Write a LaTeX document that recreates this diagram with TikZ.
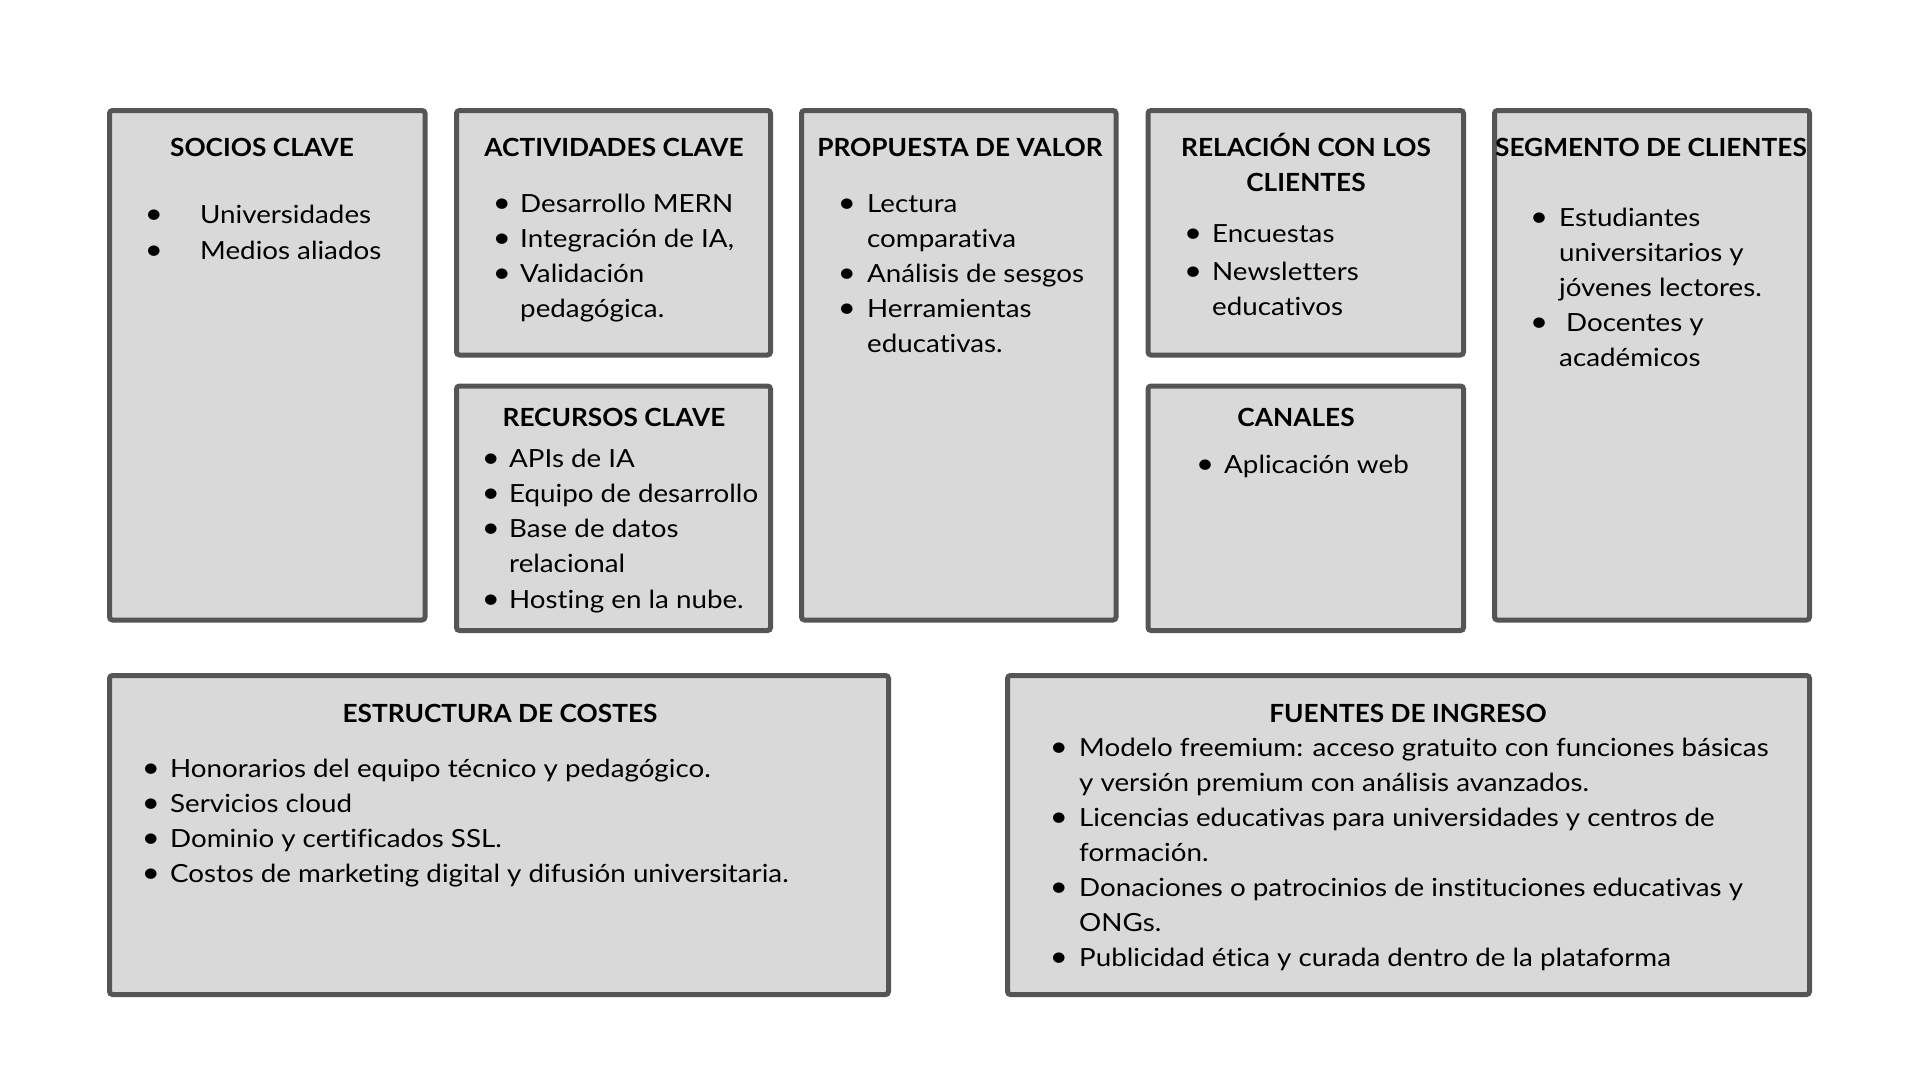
\documentclass[tikz,border=0pt]{standalone}
\usepackage{fontspec}
\setmainfont{Lato}[FakeStretch=1.11, Ligatures={NoCommon}]
\newfontfamily\ttlfont{Lato}[FakeStretch=1.05]
\definecolor{boxfill}{HTML}{D9D9D9}
\definecolor{boxline}{HTML}{555555}
\tikzset{
  panel/.style={draw=boxline, fill=boxfill, line width=5pt, rounded corners=3pt, anchor=north west, inner sep=0pt, outer sep=0pt},
  ttl/.style={font=\fontsize{25}{30}\selectfont\ttlfont\bfseries, inner sep=0pt, text height=18pt, text depth=6pt, anchor=center, yshift=-3.5pt},
  txt/.style={font=\fontsize{25}{35}\selectfont, inner sep=0pt, text height=18pt, text depth=6pt, anchor=west, yshift=-3.5pt},
  bul/.style={font=\fontsize{28}{35}\selectfont, inner sep=0pt, text height=18pt, text depth=6pt, anchor=center, yshift=-3.5pt}
}
\begin{document}
\begin{tikzpicture}[x=1pt,y=-1pt]
\useasboundingbox[fill=white] (0,0) rectangle (1920,1080);

% panels
\node[panel, minimum width=315.5pt, minimum height=509.5pt] (socios) at (109.5,110.5) {};
\node[panel, minimum width=314pt, minimum height=244.5pt] (activ) at (456.5,110.5) {};
\node[panel, minimum width=314pt, minimum height=244.5pt] (recur) at (456.5,386) {};
\node[panel, minimum width=314.5pt, minimum height=509.5pt] (prop) at (801.5,110.5) {};
\node[panel, minimum width=315.5pt, minimum height=244.5pt] (relac) at (1148,110.5) {};
\node[panel, minimum width=315.5pt, minimum height=244.5pt] (canal) at (1148,386) {};
\node[panel, minimum width=315pt, minimum height=509.5pt] (segm) at (1494.5,110.5) {};
\node[panel, minimum width=779pt, minimum height=319pt] (costes) at (109.5,675.5) {};
\node[panel, minimum width=802pt, minimum height=319pt] (ingreso) at (1007.5,675.5) {};

% SOCIOS CLAVE
\node[ttl] (t1) at (262,147) {SOCIOS CLAVE};
\node[bul] (b11) at (154,214) {•};
\node[txt] (s11) at (200,214) {Universidades};
\node[bul] (b12) at (154,250) {•};
\node[txt] (s12) at (200,250) {Medios aliados};

% ACTIVIDADES CLAVE
\node[ttl] (t2) at (614,147) {ACTIVIDADES CLAVE};
\node[bul] (b21) at (502,203) {•};
\node[txt] (s21) at (520,203) {Desarrollo MERN};
\node[bul] (b22) at (502,238) {•};
\node[txt] (s22) at (520,238) {Integración de IA,};
\node[bul] (b23) at (502,273) {•};
\node[txt] (s23) at (520,273) {Validación};
\node[txt] (s24) at (520,308) {pedagógica.};

% RECURSOS CLAVE
\node[ttl] (t3) at (614,417) {RECURSOS CLAVE};
\node[bul] (b31) at (491,458) {•};
\node[txt] (s31) at (509,458) {APIs de IA};
\node[bul] (b32) at (491,493) {•};
\node[txt] (s32) at (509,493) {Equipo de desarrollo};
\node[bul] (b33) at (491,528) {•};
\node[txt] (s33) at (509,528) {Base de datos};
\node[txt] (s34) at (509,563) {relacional};
\node[bul] (b35) at (491,599) {•};
\node[txt] (s35) at (509,599) {Hosting en la nube.};

% PROPUESTA DE VALOR
\node[ttl] (t4) at (960,147) {PROPUESTA DE VALOR};
\node[bul] (b41) at (847,203) {•};
\node[txt] (s41) at (867,203) {Lectura};
\node[txt] (s42) at (867,238) {comparativa};
\node[bul] (b43) at (847,273) {•};
\node[txt] (s43) at (867,273) {Análisis de sesgos};
\node[bul] (b44) at (847,308) {•};
\node[txt] (s44) at (867,308) {Herramientas};
\node[txt] (s45) at (867,343) {educativas.};

% RELACION CON LOS CLIENTES
\node[ttl] (t5a) at (1306,147) {RELACIÓN CON LOS};
\node[ttl] (t5b) at (1306,182) {CLIENTES};
\node[bul] (b51) at (1193,233) {•};
\node[txt] (s51) at (1212,233) {Encuestas};
\node[bul] (b52) at (1193,271) {•};
\node[txt] (s52) at (1212,271) {Newsletters};
\node[txt] (s53) at (1212,306) {educativos};

% CANALES
\node[ttl] (t6) at (1296,417) {CANALES};
\node[bul] (b61) at (1205,464) {•};
\node[txt] (s61) at (1224,464) {Aplicación web};

% SEGMENTO DE CLIENTES
\node[ttl] (t7) at (1651,147) {SEGMENTO DE CLIENTES};
\node[bul] (b71) at (1539,217) {•};
\node[txt] (s71) at (1559,217) {Estudiantes};
\node[txt] (s72) at (1559,252) {universitarios y};
\node[txt] (s73) at (1559,287) {jóvenes lectores.};
\node[bul] (b74) at (1539,322) {•};
\node[txt] (s74) at (1566,322) {Docentes y};
\node[txt] (s75) at (1559,357) {académicos};

% ESTRUCTURA DE COSTES
\node[ttl] (t8) at (500,713) {ESTRUCTURA DE COSTES};
\node[bul] (b81) at (151,768) {•};
\node[txt] (s81) at (170,768) {Honorarios del equipo técnico y pedagógico.};
\node[bul] (b82) at (151,803) {•};
\node[txt] (s82) at (170,803) {Servicios cloud};
\node[bul] (b83) at (151,838) {•};
\node[txt] (s83) at (170,838) {Dominio y certificados SSL.};
\node[bul] (b84) at (151,873) {•};
\node[txt] (s84) at (170,873) {Costos de marketing digital y difusión universitaria.};

% FUENTES DE INGRESO
\node[ttl] (t9) at (1408,713) {FUENTES DE INGRESO};
\node[bul] (b91) at (1059,747) {•};
\node[txt] (s91) at (1079,747) {Modelo freemium: acceso gratuito con funciones básicas};
\node[txt] (s92) at (1079,782) {y versión premium con análisis avanzados.};
\node[bul] (b93) at (1059,817) {•};
\node[txt] (s93) at (1079,817) {Licencias educativas para universidades y centros de};
\node[txt] (s94) at (1079,852) {formación.};
\node[bul] (b95) at (1059,887) {•};
\node[txt] (s95) at (1079,887) {Donaciones o patrocinios de instituciones educativas y};
\node[txt] (s96) at (1079,922) {ONGs.};
\node[bul] (b97) at (1059,957) {•};
\node[txt] (s97) at (1079,957) {Publicidad ética y curada dentro de la plataforma};
\end{tikzpicture}
\end{document}
